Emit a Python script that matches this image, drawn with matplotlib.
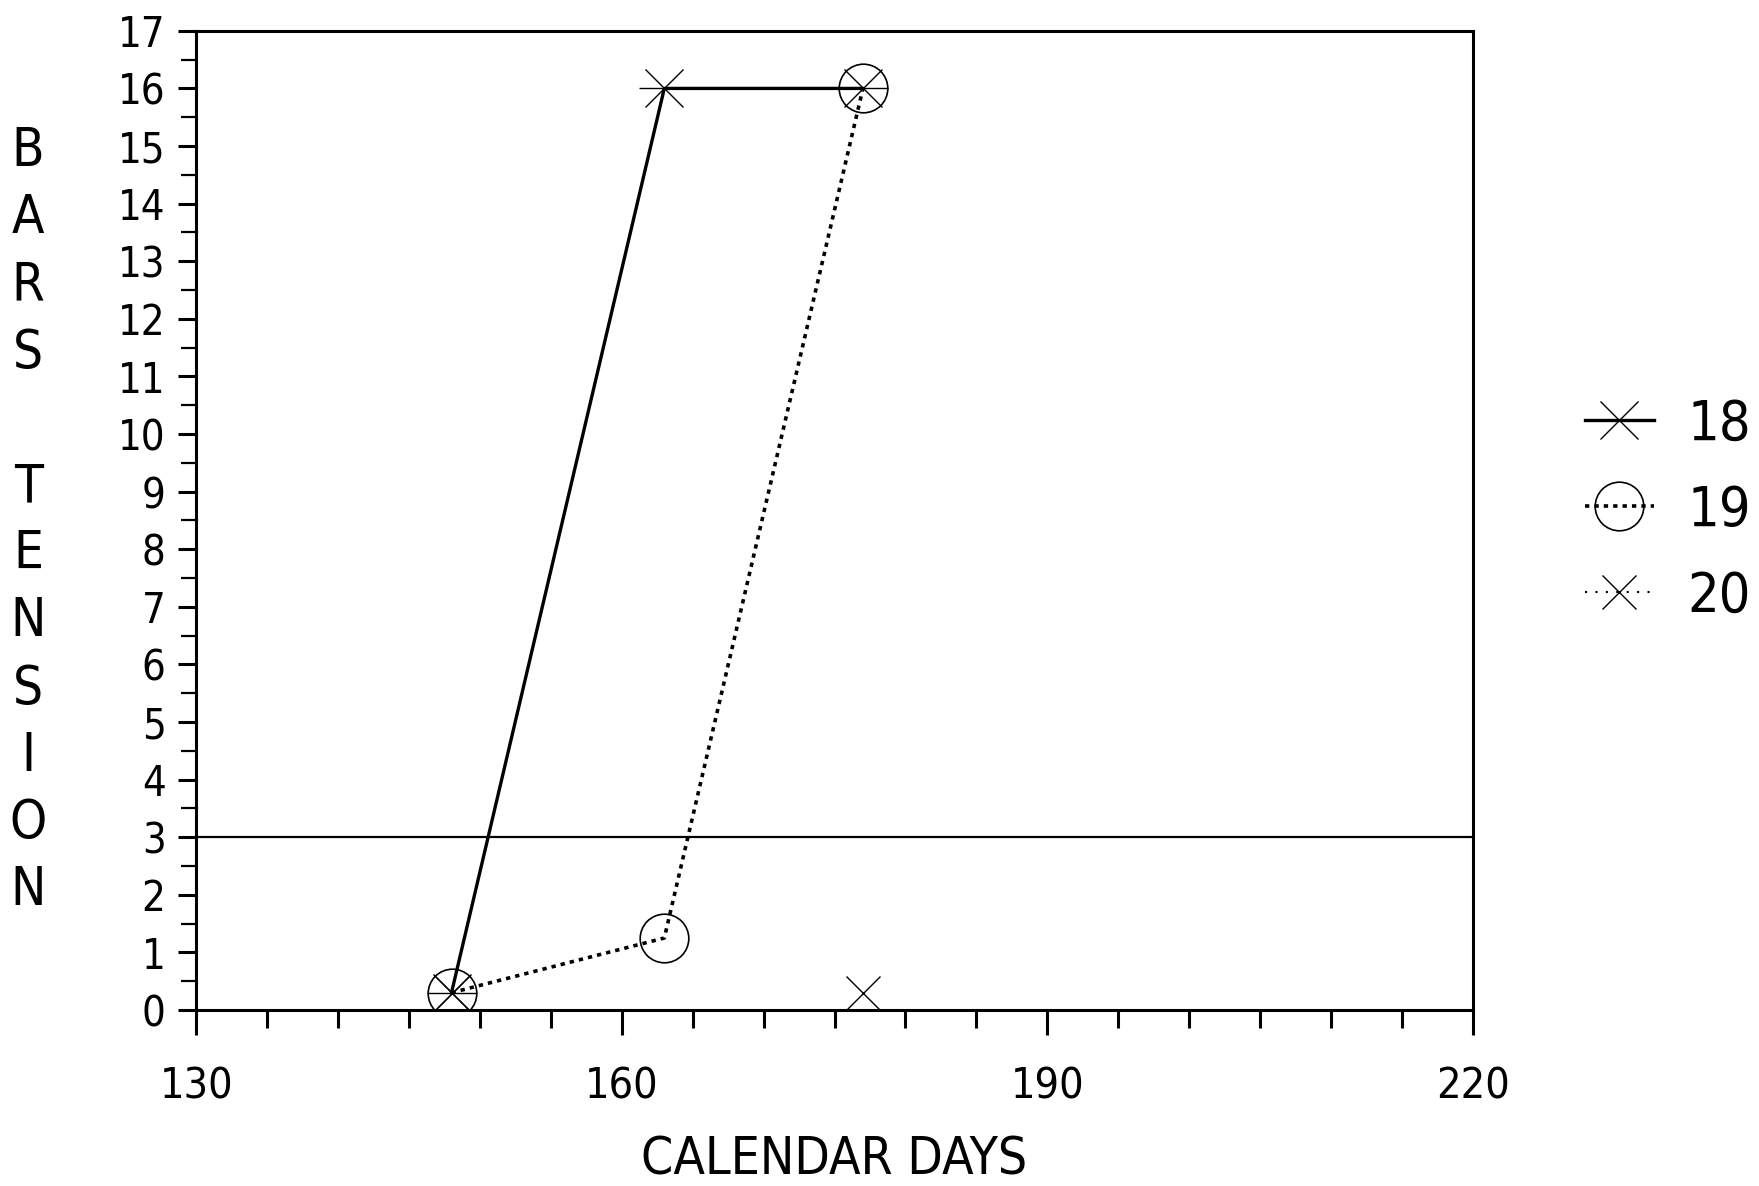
import numpy as np
import matplotlib
matplotlib.use("Agg")
import matplotlib.pyplot as plt
from matplotlib.ticker import MultipleLocator, FixedLocator

# data
days = [148, 163, 177]
s18 = [0.3, 16.0, 16.0]
s19 = [0.3, 1.25, 16.0]
s20 = [0.3, np.nan, 0.3]
threshold = 3
xticks_major = [130, 160, 190, 220]

plt.rcParams['font.family'] = ['DejaVu Sans']
plt.rcParams['font.stretch'] = 'condensed'

fig = plt.figure(figsize=(17.59, 11.86), dpi=100)
ax = fig.add_axes([0.1115, 0.1484, 0.7259, 0.8256])

# series 18: solid line, asterisk (x + horizontal bar)
ax.plot(days, s18, color='black', lw=2.4, ls='-')
ax.plot(days, s18, ls='none', marker='x', ms=27, mew=1.0, color='black')
ax.plot(days, s18, ls='none', marker='_', ms=36, mew=1.0, color='black')
# series 19: dashed dots, open circle
ax.plot(days, s19, color='black', lw=2.6, ls=(0, (1.2, 1.4)))
ax.plot(days, s19, ls='none', marker='o', ms=35, mfc='none', mec='black', mew=1.2)
# series 20: fine dots, x
ax.plot(days, s20, color='black', lw=1.5, ls=(0, (1, 4)))
ax.plot(days, s20, ls='none', marker='x', ms=25, mew=1.0, color='black')

ax.axhline(threshold, color='black', lw=1.6)

# legend handles
h18 = ax.plot([], [], color='black', lw=2.4, marker='x', ms=27, mew=1.0)[0]
h19 = ax.plot([], [], color='black', lw=2.6, ls=(0, (1.2, 1.4)), marker='o', ms=35,
              mfc='none', mec='black', mew=1.2)[0]
h20 = ax.plot([], [], color='black', lw=1.5, ls=(0, (1, 4)), marker='x', ms=25, mew=1.0)[0]
leg = ax.legend([h18, h19, h20], ['18', '19', '20'], loc='center left',
                bbox_to_anchor=(1.07, 0.51), frameon=False, fontsize=40,
                handlelength=1.25, handletextpad=0.6, labelspacing=0.58,
                borderaxespad=0)

ax.set_xlim(130, 220)
ax.set_ylim(0, 17)
ax.xaxis.set_major_locator(FixedLocator(xticks_major))
ax.xaxis.set_minor_locator(MultipleLocator(5))
ax.yaxis.set_major_locator(MultipleLocator(1))
ax.yaxis.set_minor_locator(MultipleLocator(0.5))

for sp in ax.spines.values():
    sp.set_linewidth(2.2)

ax.tick_params(axis='x', which='major', direction='out', length=18, width=2.2,
               labelsize=31, pad=22)
ax.tick_params(axis='x', which='minor', direction='out', length=13, width=2.2)
ax.tick_params(axis='y', which='major', direction='out', length=13, width=2.2,
               labelsize=30, pad=9)
ax.tick_params(axis='y', which='minor', direction='out', length=11, width=1.6)

ax.set_xlabel('CALENDAR DAYS', fontsize=37, labelpad=20)

fig.text(0.016, 0.5610, 'B\nA\nR\nS\n\nT\nE\nN\nS\nI\nO\nN', fontsize=38,
         ha='center', va='center', linespacing=1.37)

fig.savefig('out.png', dpi=100, facecolor='white')
